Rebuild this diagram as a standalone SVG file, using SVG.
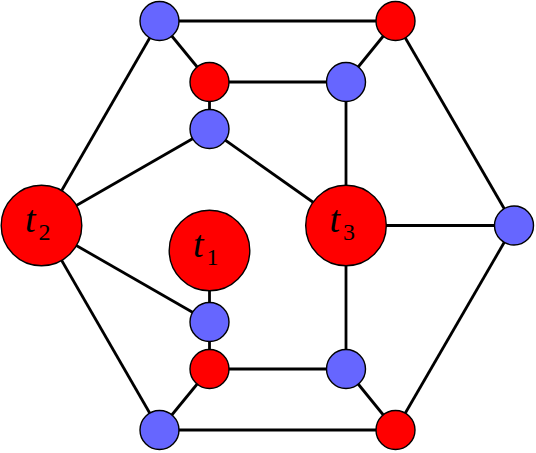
<svg xmlns="http://www.w3.org/2000/svg" width="536" height="453" viewBox="0 0 536 453">
  <style>
    .edge { stroke: #000; stroke-width: 2.8; stroke-linecap: butt; fill: none; }
    .red { fill: #ff0000; stroke: #000; stroke-width: 1.4; }
    .blue { fill: #6666ff; stroke: #000; stroke-width: 1.4; }
    .lbl { font-family: "Liberation Serif", "DejaVu Serif", serif; font-style: italic; font-size: 38px; fill: #000; }
    .sub { font-family: "Liberation Serif", "DejaVu Serif", serif; font-size: 24px; fill: #000; }
  </style>
  <rect width="536" height="453" fill="#fff"/>
  <g id="edges">
    <line class="edge" x1="159.5" y1="21" x2="395.5" y2="21"/>
    <line class="edge" x1="159.5" y1="21" x2="209.5" y2="82"/>
    <line class="edge" x1="209.5" y1="82" x2="346" y2="82"/>
    <line class="edge" x1="346" y1="82" x2="395.5" y2="21"/>
    <line class="edge" x1="209.5" y1="82" x2="209.5" y2="129"/>
    <line class="edge" x1="346" y1="82" x2="346" y2="225.5"/>
    <line class="edge" x1="209.5" y1="129" x2="41.5" y2="225.5"/>
    <line class="edge" x1="209.5" y1="129" x2="346" y2="225.5"/>
    <line class="edge" x1="159.5" y1="21" x2="41.5" y2="225.5"/>
    <line class="edge" x1="395.5" y1="21" x2="514" y2="225.5"/>
    <line class="edge" x1="346" y1="225.5" x2="514" y2="225.5"/>
    <line class="edge" x1="41.5" y1="225.5" x2="209.5" y2="322"/>
    <line class="edge" x1="209.5" y1="250.5" x2="209.5" y2="322"/>
    <line class="edge" x1="209.5" y1="322" x2="209.5" y2="369"/>
    <line class="edge" x1="209.5" y1="369" x2="346" y2="369"/>
    <line class="edge" x1="346" y1="369" x2="346" y2="225.5"/>
    <line class="edge" x1="346" y1="369" x2="395.5" y2="430"/>
    <line class="edge" x1="209.5" y1="369" x2="159.5" y2="430"/>
    <line class="edge" x1="159.5" y1="430" x2="395.5" y2="430"/>
    <line class="edge" x1="41.5" y1="225.5" x2="159.5" y2="430"/>
    <line class="edge" x1="514" y1="225.5" x2="395.5" y2="430"/>
  </g>
  <g id="n-top-left"><circle class="blue" cx="159.5" cy="21" r="19.5"/></g>
  <g id="n-top-right"><circle class="red" cx="395.5" cy="21" r="19.5"/></g>
  <g id="n-upper-red"><circle class="red" cx="209.5" cy="82" r="19.5"/></g>
  <g id="n-upper-blue-right"><circle class="blue" cx="346" cy="82" r="19.5"/></g>
  <g id="n-upper-blue"><circle class="blue" cx="209.5" cy="129" r="19.5"/></g>
  <g id="n-right"><circle class="blue" cx="514" cy="225.5" r="19.5"/></g>
  <g id="n-lower-blue"><circle class="blue" cx="209.5" cy="322" r="19.5"/></g>
  <g id="n-lower-red"><circle class="red" cx="209.5" cy="369" r="19.5"/></g>
  <g id="n-lower-blue-right"><circle class="blue" cx="346" cy="369" r="19.5"/></g>
  <g id="n-bottom-left"><circle class="blue" cx="159.5" cy="430" r="19.5"/></g>
  <g id="n-bottom-right"><circle class="red" cx="395.5" cy="430" r="19.5"/></g>
  <g id="t2">
    <circle class="red" cx="41.5" cy="225.5" r="40.3"/>
    <text class="lbl" x="25" y="232">t</text>
    <text class="sub" x="38.5" y="240">2</text>
  </g>
  <g id="t1">
    <circle class="red" cx="209.5" cy="250.5" r="40.3"/>
    <text class="lbl" x="193" y="257">t</text>
    <text class="sub" x="206.5" y="265">1</text>
  </g>
  <g id="t3">
    <circle class="red" cx="346" cy="225.5" r="40.3"/>
    <text class="lbl" x="329.5" y="232">t</text>
    <text class="sub" x="343" y="240">3</text>
  </g>
</svg>
